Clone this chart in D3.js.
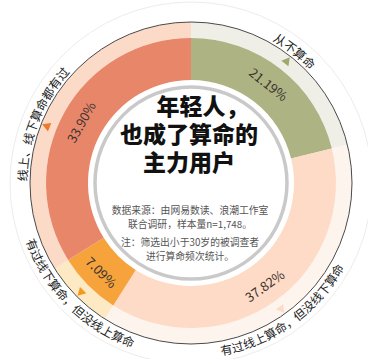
<!DOCTYPE html>
<html>
<head>
<meta charset="utf-8">
<script src="https://cdn.jsdelivr.net/npm/d3@7"></script>
<style>
  body { margin: 0; background: #fff; }
  svg text { font-family: "Noto Sans CJK SC", "Noto Sans", sans-serif; }
</style>
</head>
<body>
<div id="graph"></div>
<script>
// survey: how often young people use fortune telling
var categories = ['从不算命', '有过线上算命，但没线下算命', '有过线下算命，但没线上算命', '线上、线下算命都有过']
var shares = [21.19, 37.82, 7.09, 33.90]
var ringColors = ['#adb382', '#fddbc6', '#f6a33b', '#e8866a']
var bandColors = ['#efefe7', '#fdf4ed', '#fde9c4', '#fcdac8']
var markColors = ['#a0a86c', '#fbdcc8', '#f29a1f', '#ea7a2c']
var titleLines = ['年轻人，', '也成了算命的', '主力用户']
var noteLines = ['数据来源：由网易数读、浪潮工作室', '联合调研，样本量n=1,748。', '注：筛选出小于30岁的被调查者', '进行算命频次统计。']

var width = 368, height = 359
var cx = 191, cy = 183
var rIn = 103, rRing = 145, rBand = 161

var rows = categories.map((c, i) => ({name: c, value: shares[i], i: i}))

var pie = d3.pie().sort(null).value(d => d.value).startAngle(0).endAngle(2 * Math.PI)
var slices = pie(rows)

var svg = d3.select('#graph').append('svg')
  .attr('width', width).attr('height', height)

var g = svg.append('g').attr('transform', `translate(${cx},${cy})`)

// faint outer circle
g.append('circle').attr('r', 181)
  .attr('fill', 'none').attr('stroke', '#ececec').attr('stroke-width', 1)

// light outer band
var bandArc = d3.arc().innerRadius(rRing).outerRadius(rBand)
g.selectAll('path.band').data(slices).enter().append('path')
  .attr('class', 'band')
  .attr('d', bandArc)
  .attr('fill', d => bandColors[d.index])

// main ring
var ringArc = d3.arc().innerRadius(rIn).outerRadius(rRing)
g.selectAll('path.ring').data(slices).enter().append('path')
  .attr('class', 'ring')
  .attr('d', ringArc)
  .attr('fill', d => ringColors[d.index])

// thin dark rim line
g.append('circle').attr('r', rBand)
  .attr('fill', 'none').attr('stroke', '#4a4a4a').attr('stroke-width', 1)

// inner white disc with grey border
g.append('circle').attr('r', 96)
  .attr('fill', '#fff').attr('stroke', '#c9c9c9').attr('stroke-width', 3.5)

var deg = a => a * 180 / Math.PI
var mid = d => (d.startAngle + d.endAngle) / 2
// left label sits a bit above the slice centre
var labelAngle = d => mid(d) + (d.index === 3 ? -0.13 : 0)
var isBottom = a => a > Math.PI / 2 && a < Math.PI * 1.5

// percent labels
var fmt = d3.format('.2f')
g.selectAll('text.pct').data(slices).enter().append('text')
  .attr('class', 'pct')
  .attr('transform', d => {
    var a = mid(d), r = 126
    var rot = isBottom(a) ? deg(a) - 180 : deg(a)
    return `translate(${r * Math.sin(a)},${-r * Math.cos(a)}) rotate(${rot})`
  })
  .attr('text-anchor', 'middle')
  .attr('dominant-baseline', 'central')
  .attr('font-size', 13)
  .attr('fill', '#3b3330')
  .text(d => fmt(d.data.value) + '%')

// small triangle markers inside the rim
g.selectAll('path.mark').data(slices).enter().append('path')
  .attr('class', 'mark')
  .attr('d', 'M-4.5,4 L4.5,4 L0,-4 Z')
  .attr('transform', d => {
    var a = labelAngle(d), r = 156
    return `translate(${r * Math.sin(a)},${-r * Math.cos(a)}) rotate(${deg(a)})`
  })
  .attr('fill', d => markColors[d.index])

// curved category labels outside the rim
var defs = svg.append('defs')
var span = 1.2
slices.forEach(d => {
  var a = labelAngle(d)
  var bottom = isBottom(a)
  var r = bottom ? 175 : 164
  var a0 = bottom ? a + span : a - span
  var a1 = bottom ? a - span : a + span
  var p = d3.path()
  p.moveTo(cx + r * Math.sin(a0), cy - r * Math.cos(a0))
  p.arc(cx, cy, r, a0 - Math.PI / 2, a1 - Math.PI / 2, bottom)
  defs.append('path').attr('id', 'lab' + d.index).attr('d', p.toString())
})

svg.selectAll('text.cat').data(slices).enter().append('text')
  .attr('class', 'cat')
  .attr('font-size', 12)
  .attr('fill', '#222')
  .append('textPath')
  .attr('href', d => '#lab' + d.index)
  .attr('startOffset', '50%')
  .attr('text-anchor', 'middle')
  .text(d => d.data.name)

// title
var fs = 23
g.selectAll('text.title').data(titleLines).enter().append('text')
  .attr('class', 'title')
  .attr('x', (d, i) => i === 0 ? -1.5 * fs : -2)
  .attr('y', (d, i) => -78 + i * 28)
  .attr('text-anchor', (d, i) => i === 0 ? 'start' : 'middle')
  .attr('dominant-baseline', 'central')
  .attr('font-size', fs)
  .attr('font-weight', 900)
  .attr('fill', '#111')
  .text(d => d)

// source notes
g.selectAll('text.note').data(noteLines).enter().append('text')
  .attr('class', 'note')
  .attr('x', -1)
  .attr('y', (d, i) => 27 + i * 13.5 + (i > 1 ? 5 : 0))
  .attr('text-anchor', 'middle')
  .attr('dominant-baseline', 'central')
  .attr('font-size', 9.8)
  .attr('fill', '#555')
  .text(d => d)
</script>
</body>
</html>
